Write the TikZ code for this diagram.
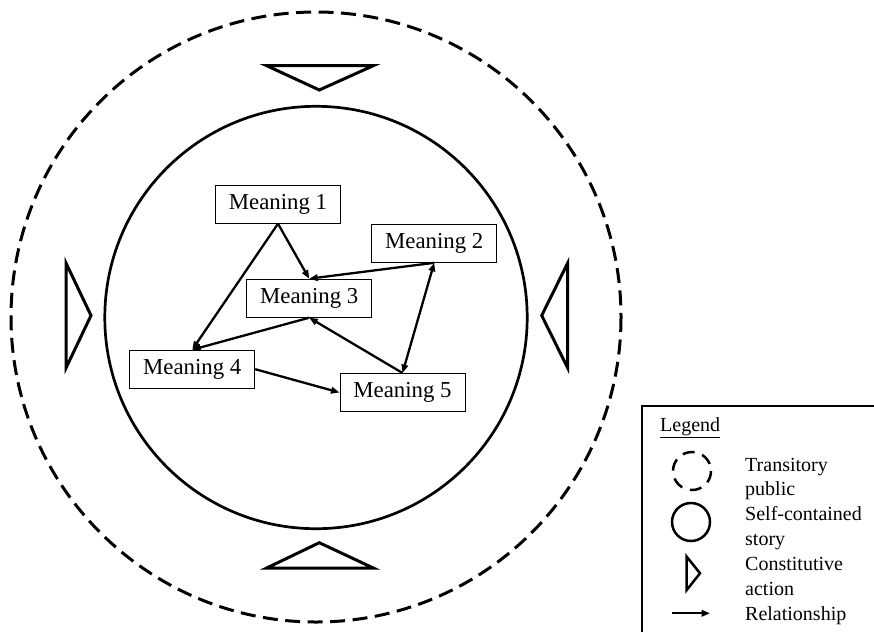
\documentclass[tikz,border=0pt]{standalone}
\usepackage{fontspec}
\setmainfont{Liberation Serif}
\usetikzlibrary{arrows.meta}
\begin{document}
\begin{tikzpicture}
[x=1pt,y=-1pt,
  meaningbox/.style={shape=rectangle,draw,line width=1pt,minimum width=125pt,minimum height=38pt,inner sep=0pt,font=\fontsize{22.8}{27}\selectfont},%
  relline/.style={-{Triangle[length=8.5pt,width=6.5pt]},line width=2.3pt},%
  storyline/.style={line width=2.7pt},%
  publicline/.style={line width=3pt,dash pattern=on 15pt off 7.5pt},%
  actionline/.style={line width=3pt,line join=miter},%
  legendtext/.style={anchor=base west,inner sep=0pt,font=\fontsize{20}{24}\selectfont}]
\useasboundingbox (0,0) rectangle (874,632);
%% transitory public and self-contained story
\draw[publicline] (316,317) circle [radius=305];
\draw[storyline] (316,317.5) circle [radius=211.2];
%% constitutive actions
\draw[actionline] (266.7,65.7) -- (373.3,65.7) -- (319.3,90) -- cycle;
\draw[actionline] (266.7,568) -- (373.3,568) -- (319.3,542.7) -- cycle;
\draw[actionline] (66,263) -- (66,368) -- (91,315.5) -- cycle;
\draw[actionline] (567.7,263) -- (567.7,368) -- (541.7,315.5) -- cycle;
%% meanings
\foreach \nodename/\x/\y in {
  1/278/204.2, 2/434.2/243.3, 3/309.2/298.2,
  4/192.2/369.2, 5/402.5/392.5}
{
  \node (m\nodename) at (\x,\y) [meaningbox] {Meaning \nodename};
}
%% relationships
\path
\foreach \startnode/\endnode in {m1.south/m3.north, m1.south/m4.north,
  m2.south/m3.north, m3.south/m4.north, m5.north/m3.south, m4.east/m5.west} {
  (\startnode) edge[relline] (\endnode)
};
\draw[relline,{Triangle[length=8.5pt,width=6.5pt]}-{Triangle[length=8.5pt,width=6.5pt]}] (m2.south) -- (m5.north);
%% legend
\draw[line width=2pt] (642,632) |- (874,406);
\node (legendtitle) [legendtext] at (660,431) {\underline{Legend}};
\draw[line width=2.5pt,dash pattern=on 12pt off 8pt] (692,471) circle [radius=19];
\draw[line width=2.5pt] (691,522) circle [radius=19];
\draw[line width=2.5pt,line join=miter] (686.7,556.7) -- (700,573.3) -- (686.7,590) -- cycle;
\coordinate (relstart) at (672,613.3);
\coordinate (relend) at (710,613.3);
\draw[relline] (relstart) -- (relend);
\foreach \i/\ybase/\words in {1/471/Transitory, 2/495.5/public,
  3/520/Self-contained, 4/545.5/story, 5/570.5/Constitutive,
  6/595/action, 7/620/Relationship}
{
  \node (legend\i) [legendtext] at (745,\ybase) {\words};
}
\end{tikzpicture}
\end{document}
